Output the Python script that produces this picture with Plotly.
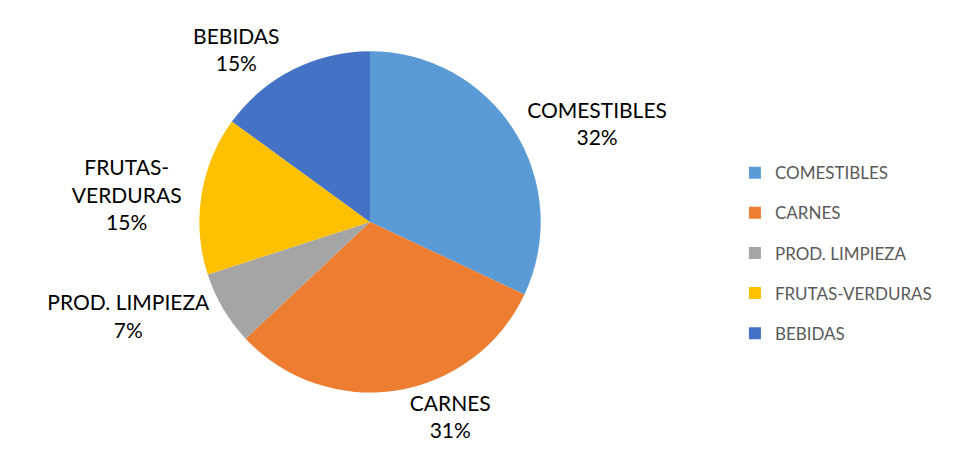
import plotly.graph_objects as go

categories = ["COMESTIBLES", "CARNES", "PROD. LIMPIEZA", "FRUTAS-VERDURAS", "BEBIDAS"]
values = [32, 31, 7, 15, 15]
label_text = ["COMESTIBLES", "CARNES", "PROD. LIMPIEZA", "FRUTAS-<br>VERDURAS", "BEBIDAS"]
colors = ["#5B9BD5", "#ED7D31", "#A5A5A5", "#FFC000", "#4472C4"]

fig = go.Figure()
fig.add_trace(go.Pie(
    labels=categories,
    values=values,
    text=label_text,
    sort=False,
    direction="clockwise",
    rotation=0,
    marker=dict(colors=colors, line=dict(color="white", width=0)),
    texttemplate="%{text}<br>%{percent:.0%}",
    textposition="outside",
    textfont=dict(family="Lato, Open Sans, sans-serif", size=21, color="#000000"),
    showlegend=False,
    domain=dict(x=[0.1, 0.655], y=[0.128, 0.902]),
))

# legend entries (one per category) so the legend rows can be spaced like the original
for cat, col in zip(categories, colors):
    fig.add_trace(go.Scatter(
        x=[None], y=[None], mode="markers", name=cat, legendgroup=cat,
        marker=dict(symbol="square", size=11, color=col),
        hoverinfo="skip",
    ))

fig.update_layout(
    width=959,
    height=441,
    paper_bgcolor="white",
    plot_bgcolor="white",
    margin=dict(l=0, r=0, t=0, b=0, autoexpand=False),
    xaxis=dict(visible=False),
    yaxis=dict(visible=False),
    legend=dict(
        x=0.758, y=0.444, xanchor="left", yanchor="middle",
        font=dict(family="Lato, Open Sans, sans-serif", size=17, color="#595959"),
        tracegroupgap=15,
        itemsizing="constant",
    ),
)

fig.write_html("out.html")
